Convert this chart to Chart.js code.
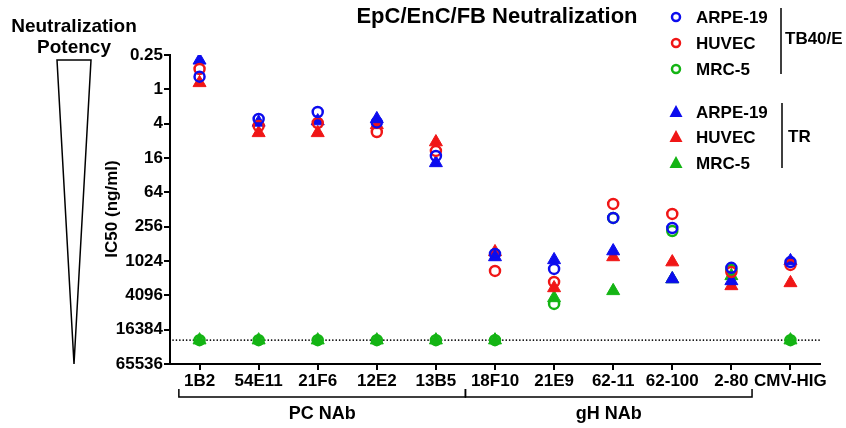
<!DOCTYPE html>
<html>
<head>
<meta charset="utf-8">
<script src="https://cdn.jsdelivr.net/npm/chart.js@4"></script>
<style>
  html, body { margin: 0; padding: 0; background: #fff; }
</style>
</head>
<body>
<canvas id="ic50Chart" width="846" height="428"></canvas>
<script>
// Antibodies on the x axis
const antibodies = ["1B2", "54E11", "21F6", "12E2", "13B5", "18F10", "21E9", "62-11", "62-100", "2-80", "CMV-HIG"];

// IC50 (ng/ml) per antibody, TB40/E virus (open circles)
const tb40Arpe = [0.6, 3.3, 2.5, 3.8, 14.7, 770, 1410, 180, 270, 1350, 1070];
const tb40Huvec = [0.44, 4.4, 3.9, 5.6, 12, 1530, 2380, 102, 153, 1600, 1200];
const tb40Mrc = [25000, 25000, 25000, 25000, 25000, 25000, 5800, 180, 305, 1470, 25000];

// IC50 (ng/ml) per antibody, TR virus (filled triangles)
const trArpe = [0.31, 3.8, 3.6, 3.3, 19.5, 870, 980, 685, 2120, 2290, 1020];
const trHuvec = [0.77, 5.8, 5.8, 4.2, 8.4, 710, 3040, 870, 1070, 2800, 2480];
const trMrc = [25000, 25000, 25000, 25000, 25000, 25000, 4550, 3420, 2120, 1870, 25000];

// y axis ticks and detection limit
const yTicks = [0.25, 1, 4, 16, 64, 256, 1024, 4096, 16384, 65536];
const detectionLimit = 25000;

// antibody groups under the x axis
const groups = [
  { label: "PC NAb", from: 0, to: 4 },
  { label: "gH NAb", from: 5, to: 9 },
];

const BLUE = "#0c0cee";
const RED = "#f01616";
const GREEN = "#14b414";
const FONT = "'Liberation Sans', Arial, sans-serif";

const circleSet = (label, data, color) => ({
  label, data,
  pointStyle: "circle",
  pointRadius: 5,
  pointBorderWidth: 2.5,
  pointBorderColor: color,
  pointBackgroundColor: "rgba(0,0,0,0)",
  showLine: false,
});

const triangleSet = (label, data, color) => ({
  label, data,
  pointStyle: "triangle",
  pointRadius: 7.5,
  pointBorderWidth: 1,
  pointBorderColor: color,
  pointBackgroundColor: color,
  showLine: false,
});

// Decorations: title, potency wedge, axis title, dotted limit, groups, legend
const decorations = {
  id: "decorations",
  beforeDatasetsDraw(chart) {
    const { ctx, chartArea, scales } = chart;
    const y = scales.y.getPixelForValue(detectionLimit);
    ctx.save();
    ctx.strokeStyle = "#000";
    ctx.lineWidth = 1.6;
    ctx.lineCap = "round";
    ctx.setLineDash([0.1, 3.3]);
    ctx.beginPath();
    ctx.moveTo(chartArea.left + 3, y);
    ctx.lineTo(chartArea.right, y);
    ctx.stroke();
    ctx.restore();
  },
  afterDraw(chart) {
    const { ctx, scales } = chart;
    ctx.save();
    ctx.fillStyle = "#000";
    ctx.strokeStyle = "#000";
    ctx.textBaseline = "middle";

    // title
    ctx.textAlign = "center";
    ctx.font = "bold 22px " + FONT;
    ctx.fillText("EpC/EnC/FB Neutralization", 497, 17);

    // potency wedge
    ctx.font = "bold 19px " + FONT;
    ctx.fillText("Neutralization", 74, 27);
    ctx.fillText("Potency", 74, 48);
    ctx.lineWidth = 1.5;
    ctx.beginPath();
    ctx.moveTo(57, 60);
    ctx.lineTo(91, 60);
    ctx.lineTo(74, 364);
    ctx.closePath();
    ctx.stroke();

    // y axis title
    ctx.save();
    ctx.translate(112, 209);
    ctx.rotate(-Math.PI / 2);
    ctx.font = "bold 17px " + FONT;
    ctx.fillText("IC50 (ng/ml)", 0, 0);
    ctx.restore();

    // group brackets
    const x = scales.x;
    const by = 397;
    ctx.lineWidth = 1.5;
    ctx.font = "bold 18px " + FONT;
    groups.forEach((g, i) => {
      const left = i === 0 ? x.getPixelForValue(g.from - 0.35) : x.getPixelForValue(g.from - 0.5);
      const right = i === groups.length - 1 ? x.getPixelForValue(g.to + 0.35) : x.getPixelForValue(g.to + 0.5);
      ctx.beginPath();
      ctx.moveTo(left, by - 8);
      ctx.lineTo(left, by);
      ctx.lineTo(right, by);
      ctx.lineTo(right, by - 8);
      ctx.stroke();
      ctx.fillText(g.label, (left + right) / 2, 414);
    });

    // legend
    const rows = [
      { y: 17, label: "ARPE-19", color: BLUE, tri: false },
      { y: 43, label: "HUVEC", color: RED, tri: false },
      { y: 69, label: "MRC-5", color: GREEN, tri: false },
      { y: 112, label: "ARPE-19", color: BLUE, tri: true },
      { y: 137, label: "HUVEC", color: RED, tri: true },
      { y: 163, label: "MRC-5", color: GREEN, tri: true },
    ];
    ctx.textAlign = "left";
    ctx.font = "bold 17px " + FONT;
    rows.forEach((r) => {
      if (r.tri) {
        ctx.fillStyle = r.color;
        ctx.beginPath();
        ctx.moveTo(676, r.y - 7);
        ctx.lineTo(682.5, r.y + 5);
        ctx.lineTo(669.5, r.y + 5);
        ctx.closePath();
        ctx.fill();
      } else {
        ctx.strokeStyle = r.color;
        ctx.lineWidth = 2.5;
        ctx.beginPath();
        ctx.arc(676, r.y, 4, 0, Math.PI * 2);
        ctx.stroke();
      }
      ctx.fillStyle = "#000";
      ctx.fillText(r.label, 696, r.y + 1);
    });
    ctx.strokeStyle = "#000";
    ctx.lineWidth = 1.5;
    ctx.beginPath();
    ctx.moveTo(781, 8);
    ctx.lineTo(781, 74);
    ctx.moveTo(782, 103);
    ctx.lineTo(782, 168);
    ctx.stroke();
    ctx.fillText("TB40/E", 785, 39);
    ctx.fillText("TR", 788, 137);
    ctx.restore();
  },
};

// Chart initialization
const ctx = document.getElementById("ic50Chart").getContext("2d");
new Chart(ctx, {
  type: "line",
  data: {
    labels: antibodies,
    datasets: [
      circleSet("TB40/E ARPE-19", tb40Arpe, BLUE),
      circleSet("TB40/E HUVEC", tb40Huvec, RED),
      circleSet("TB40/E MRC-5", tb40Mrc, GREEN),
      triangleSet("TR ARPE-19", trArpe, BLUE),
      triangleSet("TR HUVEC", trHuvec, RED),
      triangleSet("TR MRC-5", trMrc, GREEN),
    ],
  },
  options: {
    responsive: false,
    animation: false,
    devicePixelRatio: 1,
    layout: { padding: { left: 0, top: 55, right: 26, bottom: 0 } },
    plugins: {
      legend: { display: false },
      tooltip: { enabled: false },
    },
    scales: {
      x: {
        type: "category",
        offset: true,
        grid: { display: true, drawOnChartArea: false, drawTicks: true, tickLength: 6, color: "#000", lineWidth: 2 },
        border: { display: true, color: "#000", width: 2 },
        ticks: {
          color: "#000",
          font: { family: FONT, size: 17, weight: "bold" },
          maxRotation: 0,
          autoSkip: false,
          padding: 1,
        },
        afterFit: (scale) => { scale.height = 64; },
      },
      y: {
        type: "logarithmic",
        reverse: true,
        min: 0.25,
        max: 65536,
        grid: { display: true, drawOnChartArea: false, drawTicks: true, tickLength: 6, color: "#000", lineWidth: 2 },
        border: { display: true, color: "#000", width: 2 },
        ticks: {
          color: "#000",
          font: { family: FONT, size: 17, weight: "bold" },
          padding: 1,
          callback: (v) => String(v),
        },
        afterBuildTicks: (scale) => { scale.ticks = yTicks.map((v) => ({ value: v })); },
        afterFit: (scale) => { scale.width = 170; },
      },
    },
  },
  plugins: [decorations],
});
</script>
</body>
</html>
